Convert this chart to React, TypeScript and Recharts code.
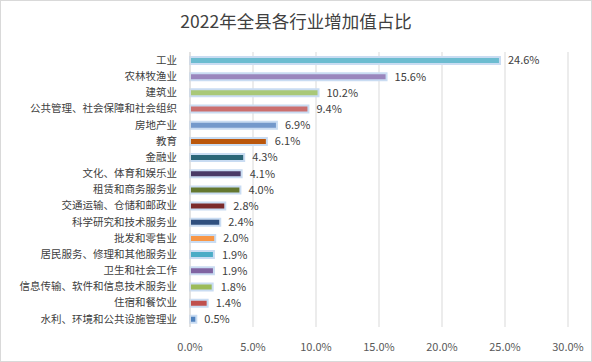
import { Bar, BarChart, XAxis, YAxis, CartesianGrid, Cell, LabelList } from 'recharts';

const industries = [
  '工业',
  '农林牧渔业',
  '建筑业',
  '公共管理、社会保障和社会组织',
  '房地产业',
  '教育',
  '金融业',
  '文化、体育和娱乐业',
  '租赁和商务服务业',
  '交通运输、仓储和邮政业',
  '科学研究和技术服务业',
  '批发和零售业',
  '居民服务、修理和其他服务业',
  '卫生和社会工作',
  '信息传输、软件和信息技术服务业',
  '住宿和餐饮业',
  '水利、环境和公共设施管理业',
];

const shares = [24.6, 15.6, 10.2, 9.4, 6.9, 6.1, 4.3, 4.1, 4.0, 2.8, 2.4, 2.0, 1.9, 1.9, 1.8, 1.4, 0.5];

const barColors = [
  '#6CBCD0', '#9A86BD', '#A9C878', '#CB6F6F', '#7499CB', '#BA570C',
  '#2B6677', '#4A3A66', '#647830', '#7B2B2B', '#2F4F7E', '#F79646',
  '#4BACC6', '#8064A2', '#9BBB59', '#C0504D', '#4F81BD',
];

const xTicks = [0, 5, 10, 15, 20, 25, 30];

const data = industries.map((name, i) => ({ name, value: shares[i] }));

const font = '"Noto Sans CJK SC", "Noto Sans", sans-serif';

const App = () => {
  return (
    <div
      style={{
        position: 'absolute',
        left: 0,
        top: 0,
        width: 590,
        height: 360,
        border: '1px solid #D9D9D9',
        background: '#fff',
        fontFamily: font,
      }}
    >
      <div
        style={{
          position: 'absolute',
          top: 7,
          width: '100%',
          textAlign: 'center',
          fontSize: 17.5,
          color: '#404040',
        }}
      >
        2022年全县各行业增加值占比
      </div>
      <BarChart
        width={590}
        height={360}
        data={data}
        layout="vertical"
        margin={{ top: 51, right: 23, left: 0, bottom: 0 }}
        barSize={7}
      >
        <CartesianGrid horizontal={false} stroke="#D9D9D9" />
        <XAxis
          type="number"
          domain={[0, 30]}
          ticks={xTicks}
          tickFormatter={(v: number) => `${v.toFixed(1)}%`}
          axisLine={false}
          tickLine={false}
          tickMargin={10}
          height={34}
          interval={0}
          tick={{ fill: '#595959', fontSize: 11, fontFamily: font }}
        />
        <YAxis
          type="category"
          dataKey="name"
          width={189}
          axisLine={{ stroke: '#D9D9D9' }}
          tickLine={false}
          tickMargin={7}
          interval={0}
          tick={{ fill: '#404040', fontSize: 10.5, fontFamily: font }}
        />
        <Bar
          dataKey="value"
          isAnimationActive={false}
          stroke="#C9DCF2"
          strokeWidth={2}
        >
          {data.map((d, i) => (
            <Cell key={d.name} fill={barColors[i]} />
          ))}
          <LabelList
            dataKey="value"
            position="right"
            offset={8}
            formatter={(v: number) => `${v.toFixed(1)}%`}
            style={{ fill: '#404040', fontSize: 11, fontFamily: font }}
          />
        </Bar>
      </BarChart>
    </div>
  );
};

export default App;
